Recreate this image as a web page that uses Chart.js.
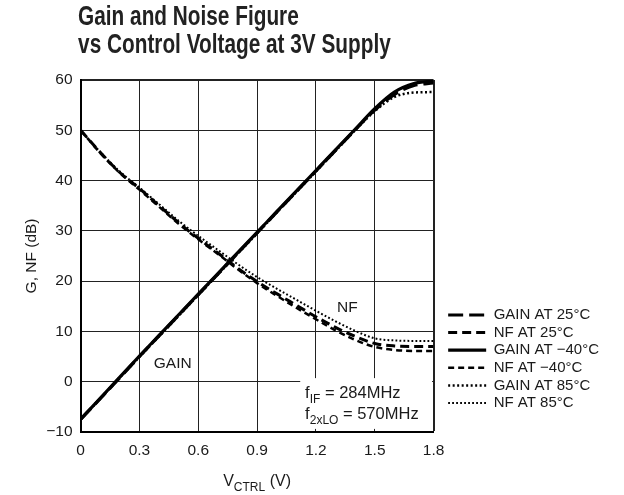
<!DOCTYPE html>
<html>
<head>
<meta charset="utf-8">
<script src="https://cdn.jsdelivr.net/npm/chart.js@4.4.0/dist/chart.umd.min.js"></script>
<style>
  html, body { margin: 0; background: #fff; }
  #wrap { width: 624px; height: 495px; }
</style>
</head>
<body>
<div id="wrap"><canvas id="chart"></canvas></div>
<script>
// 控制电压 (V)
const vctrl = [0, 0.1, 0.2, 0.3, 0.4, 0.5, 0.6, 0.7, 0.8, 0.9, 1.0, 1.1, 1.2, 1.3, 1.4, 1.5, 1.6, 1.7, 1.8];

// 增益 (dB)
const gain25 = [-7.5, -3.4, 0.8, 5.0, 9.1, 13.2, 17.3, 21.4, 25.5, 29.6, 33.7, 37.8, 41.9, 46.0, 50.1, 54.0, 57.1, 58.9, 59.4];
const gainM40 = [-7.5, -3.3, 0.9, 5.1, 9.2, 13.3, 17.4, 21.5, 25.6, 29.7, 33.8, 37.9, 42.0, 46.1, 50.2, 54.3, 57.6, 59.3, 59.8];
const gain85 = [-7.5, -3.4, 0.8, 4.9, 9.0, 13.1, 17.2, 21.3, 25.4, 29.5, 33.6, 37.7, 41.8, 45.9, 50.0, 53.8, 56.6, 57.5, 57.6];

// 噪声系数 (dB)
const nf25 = [50, 45.6, 41.6, 38.4, 35.0, 31.6, 28.5, 25.6, 22.6, 19.9, 17.5, 15.2, 12.9, 10.8, 9.0, 7.6, 7.1, 7.0, 7.0];
const nfM40 = [50, 45.5, 41.5, 38.2, 34.8, 31.4, 28.3, 25.4, 22.4, 19.6, 17.1, 14.7, 12.4, 10.2, 8.3, 6.9, 6.3, 6.1, 6.1];
const nf85 = [50, 45.7, 41.8, 38.6, 35.3, 32.0, 29.0, 26.2, 23.4, 20.8, 18.5, 16.3, 14.1, 12.0, 10.1, 8.6, 8.2, 8.1, 8.1];

const seriesNames = ['GAIN AT 25°C', 'NF AT 25°C', 'GAIN AT \u221240°C', 'NF AT \u221240°C', 'GAIN AT 85°C', 'NF AT 85°C'];
const titleLines = ['Gain and Noise Figure', 'vs Control Voltage at 3V Supply'];

const FONT = '"Liberation Sans", Arial, Helvetica, sans-serif';
const INK = '#1a1a1a';

function pts(values) {
  return vctrl.map((v, i) => ({ x: v, y: values[i] }));
}

// 线型
const styles = [
  { data: gain25, dash: [15, 6], width: 3.2 },
  { data: nf25, dash: [9, 5], width: 3 },
  { data: gainM40, dash: [], width: 3.2 },
  { data: nfM40, dash: [6, 4], width: 2.5 },
  { data: gain85, dash: [2, 2.5], width: 2.5 },
  { data: nf85, dash: [1.8, 2.2], width: 2 },
];

const datasets = styles.map((s, i) => ({
  label: seriesNames[i],
  data: pts(s.data),
  borderColor: '#000',
  backgroundColor: '#000',
  borderWidth: s.width,
  borderDash: s.dash,
  borderCapStyle: 'butt',
  pointRadius: 0,
  cubicInterpolationMode: 'monotone',
  fill: false,
}));

function drawParts(ctx, parts, x, y) {
  // parts: [text, size, baseline shift]
  let cx = x;
  parts.forEach(([text, size, dy]) => {
    ctx.font = size + 'px ' + FONT;
    ctx.fillText(text, cx, y + dy);
    cx += ctx.measureText(text).width;
  });
  return cx - x;
}

function partsWidth(ctx, parts) {
  let w = 0;
  parts.forEach(([text, size]) => {
    ctx.font = size + 'px ' + FONT;
    w += ctx.measureText(text).width;
  });
  return w;
}

const notes = {
  id: 'notes',
  beforeDatasetsDraw(chart) {
    const { ctx, chartArea } = chart;
    const x = chart.scales.x, y = chart.scales.y;
    // 频率说明的白底
    ctx.save();
    ctx.fillStyle = '#fff';
    const l = x.getPixelForValue(1.12);
    const t = y.getPixelForValue(0.7);
    const b = chartArea.bottom - 3;
    ctx.fillRect(l, t, chartArea.right - 1.5 - l, b - t);
    ctx.restore();
  },
  afterDraw(chart) {
    const { ctx, chartArea } = chart;
    const x = chart.scales.x, y = chart.scales.y;
    ctx.save();
    ctx.fillStyle = INK;
    ctx.textBaseline = 'alphabetic';
    ctx.textAlign = 'left';

    // 标题：窄体粗字，横向压缩
    ctx.save();
    ctx.fillStyle = '#222';
    ctx.font = 'bold 27px ' + FONT;
    ctx.scale(0.77, 1);
    titleLines.forEach((line, i) => {
      ctx.fillText(line, (chartArea.left - 2.5) / 0.77, 25 + i * 28);
    });
    ctx.restore();

    const fx = x.getPixelForValue(1.145);
    drawParts(ctx, [['f', 16.5, 0], ['IF', 12, 5], [' = 284MHz', 16.5, 0]], fx, y.getPixelForValue(-3.2));
    drawParts(ctx, [['f', 16.5, 0], ['2xLO', 12, 5], [' = 570MHz', 16.5, 0]], fx, y.getPixelForValue(-7.5));

    ctx.font = '15.5px ' + FONT;
    ctx.textAlign = 'center';
    ctx.fillText('GAIN', x.getPixelForValue(0.47), y.getPixelForValue(2.7));
    ctx.textBaseline = 'middle';
    ctx.fillText('NF', x.getPixelForValue(1.36), y.getPixelForValue(14.7));

    // x 轴标题 V_CTRL (V)
    ctx.textAlign = 'left';
    ctx.textBaseline = 'alphabetic';
    const parts = [['V', 16, 0], ['CTRL', 12, 5], [' (V)', 16, 0]];
    const w = partsWidth(ctx, parts);
    drawParts(ctx, parts, (chartArea.left + chartArea.right) / 2 - w / 2, chartArea.bottom + 54);
    ctx.restore();
  }
};

const ctx = document.getElementById('chart');

new Chart(ctx, {
  type: 'line',
  data: { datasets },
  options: {
    responsive: true,
    maintainAspectRatio: false,
    animation: false,
    events: [],
    layout: {
      padding: { left: 9.7, right: 15, top: 80, bottom: 24.5 }
    },
    plugins: {
      title: { display: false },
      legend: {
        position: 'right',
        align: 'start',
        fullSize: false,
        maxWidth: 170,
        // 空标题把图例条目推到下方
        title: { display: true, text: ' ', font: { size: 12, lineHeight: 1.2 }, padding: { top: 0, bottom: 210.5 } },
        labels: {
          usePointStyle: true,
          pointStyleWidth: 38,
          padding: 2.6,
          color: INK,
          font: { family: FONT, size: 15 },
          generateLabels(chart) {
            return chart.data.datasets.map((ds, i) => ({
              text: ds.label,
              datasetIndex: i,
              pointStyle: 'line',
              lineWidth: ds.borderWidth,
              lineDash: ds.borderDash,
              lineCap: 'butt',
              strokeStyle: '#000',
              fillStyle: '#000',
              fontColor: INK,
              hidden: false,
            }));
          }
        }
      },
      tooltip: { enabled: false }
    },
    scales: {
      x: {
        type: 'linear',
        min: 0,
        max: 1.8,
        ticks: {
          stepSize: 0.3,
          padding: 10,
          color: INK,
          font: { family: FONT, size: 15.5 },
          maxRotation: 0,
          callback: v => (Math.abs(v) < 1e-9 ? '0' : v.toFixed(1))
        },
        grid: {
          color: '#222',
          drawTicks: false,
          lineWidth: c => (c.tick && Math.abs(c.tick.value - 1.8) < 1e-6 ? 2 : 1)
        },
        border: { color: '#000', width: 2 }
      },
      y: {
        type: 'linear',
        min: -10,
        max: 60,
        ticks: {
          stepSize: 10,
          padding: 8,
          color: INK,
          font: { family: FONT, size: 15.5 },
          callback: v => (v < 0 ? '\u2212' + Math.abs(v) : String(v))
        },
        title: {
          display: true,
          text: 'G, NF (dB)',
          color: INK,
          font: { family: FONT, size: 15.5 },
          padding: { top: 13, bottom: -3 }
        },
        grid: {
          color: '#222',
          drawTicks: false,
          lineWidth: c => (c.tick && c.tick.value === 60 ? 2 : 1)
        },
        border: { color: '#000', width: 2 }
      },
      // 占位轴：在绘图区和图例之间留空
      gap: {
        type: 'linear',
        position: 'right',
        display: true,
        ticks: { display: false },
        grid: { display: false, drawTicks: false },
        border: { display: false },
        afterFit: s => { s.width = 12; }
      }
    }
  },
  plugins: [notes]
});
</script>
</body>
</html>
